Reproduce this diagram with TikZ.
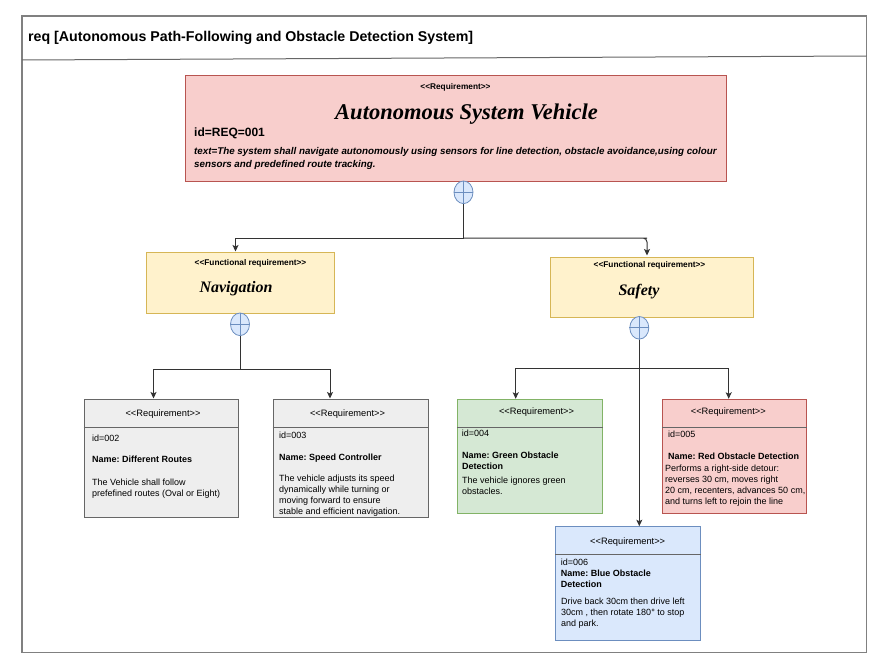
\documentclass[tikz,border=0pt]{standalone}
\usepackage{fontspec}
\setmainfont{Liberation Sans}
\newfontfamily\serifbi{Liberation Serif}
\usetikzlibrary{shapes.geometric,arrows.meta}
\newcommand\dlt{<\kern0pt<}
\newcommand\dgt{>\kern0pt>}
\definecolor{redfill}{HTML}{F8CECC}
\definecolor{redline}{HTML}{B85450}
\definecolor{yelfill}{HTML}{FFF2CC}
\definecolor{yelline}{HTML}{D6B656}
\definecolor{grayfill}{HTML}{EEEEEE}
\definecolor{grayline}{HTML}{666666}
\definecolor{grnfill}{HTML}{D5E8D4}
\definecolor{grnline}{HTML}{82B366}
\definecolor{blufill}{HTML}{DAE8FC}
\definecolor{bluline}{HTML}{6C8EBF}
\definecolor{framecol}{HTML}{808080}
\definecolor{conncol}{HTML}{333333}
\tikzset{
  boxbase/.style={rectangle, inner sep=0pt, line width=1pt},
  redbox/.style={boxbase, draw=redline, fill=redfill},
  yelbox/.style={boxbase, draw=yelline, fill=yelfill},
  graybox/.style={boxbase, draw=grayline, fill=grayfill},
  grnbox/.style={boxbase, draw=grnline, fill=grnfill},
  blubox/.style={boxbase, draw=bluline, fill=blufill},
  sepline/.style={draw=grayline, line width=1pt},
  cont/.style={ellipse, draw=bluline, fill=blufill, line width=0.8pt, minimum width=19pt, minimum height=22.6pt, inner sep=0pt},
  contcross/.style={draw=bluline, line width=0.8pt},
  conn/.style={draw=conncol, line width=1pt},
  arr/.style={conn, -{Stealth[length=6.5pt,width=6pt,inset=1.5pt]}},
  lbl/.style={inner sep=0pt, anchor=base west},
  clbl/.style={inner sep=0pt, anchor=base},
  blk/.style={inner sep=0pt, anchor=north west, align=left},
  hdr/.style={clbl, font=\fontsize{9.3}{11}\selectfont},
  stereo/.style={clbl, font=\fontsize{8.3}{9}\selectfont\bfseries},
  idtxt/.style={lbl, font=\fontsize{9}{11}\selectfont},
  nametxt/.style={lbl, font=\fontsize{9}{11}\selectfont\bfseries},
  nameblk/.style={blk, font=\fontsize{9}{11}\selectfont\bfseries},
  desc/.style={blk, font=\fontsize{9}{11}\selectfont},
}
\frenchspacing
\begin{document}
\begin{tikzpicture}[x=1pt,y=-1pt]
\useasboundingbox (0,0) rectangle (887,669);
% frame
\draw[draw=framecol, line width=1.5pt] (22,16) rectangle (866.5,652.5);
\draw[draw=grayline, line width=1pt] (22,60) -- (866.5,56);
\node[lbl, font=\fontsize{14.2}{17}\selectfont\bfseries] (title) at (28,41.7) {req [Autonomous Path-Following and Obstacle Detection System]};

% top requirement
\node[redbox, minimum width=541pt, minimum height=105pt] (top) at (455.5,128.5) {};
\node[stereo] (topst) at (455.5,89.9) {\dlt Requirement\dgt};
\node[clbl, font=\serifbi\fontsize{22.5}{26}\selectfont\bfseries\itshape] (topname) at (466.5,120) {Autonomous System Vehicle};
\node[lbl, font=\fontsize{12}{14}\selectfont\bfseries] (topid) at (194,136) {id=REQ=001};
\node[blk, font=\fontsize{9.8}{12.6}\selectfont\bfseries\itshape] (toptext) at (194,145.5) {\strut text=The system shall navigate autonomously using sensors for line detection, obstacle avoidance,using colour\\sensors and predefined route tracking.};
\node[cont] (c1) at (463.5,192.3) {};
\draw[contcross] (c1.north) -- (c1.south) (c1.west) -- (c1.east);

% functional requirements
\node[yelbox, minimum width=188pt, minimum height=61pt] (nav) at (240,282.5) {};
\node[stereo] (navst) at (250.5,265.7) {\dlt Functional requirement\dgt};
\node[clbl, font=\serifbi\fontsize{16}{19}\selectfont\bfseries\itshape] (navname) at (236,292.3) {Navigation};
\node[yelbox, minimum width=203pt, minimum height=60pt] (safe) at (651.5,287) {};
\node[stereo] (safest) at (649.5,267.7) {\dlt Functional requirement\dgt};
\node[clbl, font=\serifbi\fontsize{16}{19}\selectfont\bfseries\itshape] (safename) at (639,295.5) {Safety};
\node[cont] (c2) at (240,324.3) {};
\draw[contcross] (c2.north) -- (c2.south) (c2.west) -- (c2.east);
\node[cont] (c3) at (639.3,327.8) {};
\draw[contcross] (c3.north) -- (c3.south) (c3.west) -- (c3.east);

% requirement 002
\node[graybox, minimum width=154.5pt, minimum height=118.5pt] (b2) at (161.25,458.25) {};
\draw[sepline] ([yshift=-29.3pt]b2.north west) -- ([yshift=-29.3pt]b2.north east);
\node[hdr] (b2h) at (163,416.3) {\dlt Requirement\dgt};
\node[idtxt] (b2id) at (92,441.4) {id=002};
\node[nametxt] (b2n) at (92,462.2) {Name: Different Routes};
\node[desc] (b2d) at (92,477.7) {\strut The Vehicle shall follow\\prefefined routes (Oval or Eight)};

% requirement 003
\node[graybox, minimum width=155pt, minimum height=118.5pt] (b3) at (350.5,458.25) {};
\draw[sepline] ([yshift=-29.3pt]b3.north west) -- ([yshift=-29.3pt]b3.north east);
\node[hdr] (b3h) at (347.5,416.3) {\dlt Requirement\dgt};
\node[idtxt] (b3id) at (279,438.4) {id=003};
\node[nametxt] (b3n) at (279,460) {Name: Speed Controller};
\node[desc] (b3d) at (279,473.4) {\strut The vehicle adjusts its speed\\dynamically while turning or\\moving forward to ensure\\stable and efficient navigation.};

% requirement 004
\node[grnbox, minimum width=145pt, minimum height=113.7pt] (b4) at (530,456.15) {};
\draw[sepline] ([yshift=-28.4pt]b4.north west) -- ([yshift=-28.4pt]b4.north east);
\node[hdr] (b4h) at (536.5,414) {\dlt Requirement\dgt};
\node[idtxt] (b4id) at (461.7,436) {id=004};
\node[nameblk] (b4n) at (462,450.7) {\strut Name: Green Obstacle\\Detection};
\node[desc] (b4d) at (462,475.7) {\strut The vehicle ignores green\\obstacles.};

% requirement 005
\node[redbox, minimum width=144.4pt, minimum height=113.7pt] (b5) at (734.5,456.15) {};
\draw[sepline] ([yshift=-28.4pt]b5.north west) -- ([yshift=-28.4pt]b5.north east);
\node[hdr] (b5h) at (728.3,414) {\dlt Requirement\dgt};
\node[idtxt] (b5id) at (668,437.4) {id=005};
\node[nametxt] (b5n) at (668,459.3) {Name: Red Obstacle Detection};
\node[desc] (b5d) at (665,464) {\strut Performs a right-side detour:\\reverses 30 cm, moves right\\20 cm, recenters, advances 50 cm,\\and turns left to rejoin the line};

% requirement 006
\node[blubox, minimum width=144.5pt, minimum height=113.3pt] (b6) at (627.75,583.35) {};
\draw[sepline] ([yshift=-28pt]b6.north west) -- ([yshift=-28pt]b6.north east);
\node[hdr] (b6h) at (627.7,544) {\dlt Requirement\dgt};
\node[idtxt] (b6id) at (560.7,565) {id=006};
\node[nameblk] (b6n) at (560.7,568.3) {\strut Name: Blue Obstacle\\Detection};
\node[desc] (b6d) at (561,596.7) {\strut Drive back 30cm then drive left\\30cm , then rotate 180° to stop\\and park.};

% connectors
\coordinate (j1) at (463.5,238);
\draw[conn] (c1.south) -- (j1);
\draw[arr] (j1) -| ([xshift=-4.5pt]nav.north);
\draw[arr, rounded corners=4pt] (j1) -- (643,238) -| ([xshift=-4.5pt,yshift=1pt]safe.north);
\coordinate (j2) at (240,369);
\draw[conn] (c2.south) -- (j2);
\draw[arr] (j2) -| ([xshift=-7.75pt]b2.north);
\draw[arr] (j2) -| ([xshift=-20.5pt]b3.north);
\coordinate (j3) at (639.3,368.3);
\draw[conn] (c3.south) -- (j3);
\draw[arr] (j3) -| ([xshift=-14.3pt]b4.north);
\draw[arr] (j3) -| ([xshift=-5.8pt]b5.north);
\draw[arr] (j3) -- (j3 |- b6.north);
\end{tikzpicture}
\end{document}
